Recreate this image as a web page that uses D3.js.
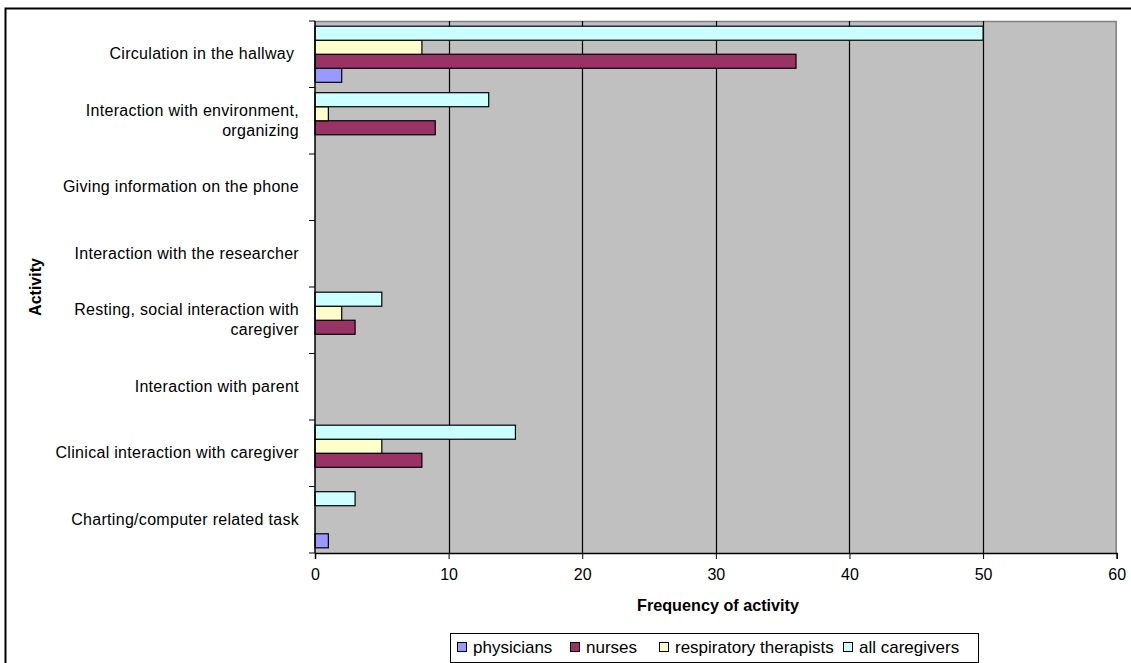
<!DOCTYPE html>
<html>
<head>
<meta charset="utf-8">
<script src="https://cdn.jsdelivr.net/npm/d3@7"></script>
<style>
  body { margin: 0; background: #fff; }
  svg { display: block; font-family: Arial, "Liberation Sans", sans-serif; }
  text { white-space: pre; }
</style>
</head>
<body>
<svg id="chart" width="1131" height="663"></svg>
<script>
// Activity categories, listed top to bottom
const categories = [
  ["Circulation in the hallway "],
  ["Interaction with environment,", "organizing"],
  ["Giving information on the phone"],
  ["Interaction with the researcher"],
  ["Resting, social interaction with", "caregiver"],
  ["Interaction with parent"],
  ["Clinical interaction with caregiver"],
  ["Charting/computer related task"]
];
const seriesNames = ["physicians", "nurses", "respiratory therapists", "all caregivers"];
const seriesColors = ["#9999FF", "#993366", "#FFFFCC", "#CCFFFF"];
// Frequency of each activity per caregiver group (same order as categories)
const physicians      = [2, 0, 0, 0, 0, 0, 0, 1];
const nurses          = [36, 9, 0, 0, 3, 0, 8, 0];
const respTherapists  = [8, 1, 0, 0, 2, 0, 5, 0];
const allCaregivers   = [50, 13, 0, 0, 5, 0, 15, 3];
const xTicks = [0, 10, 20, 30, 40, 50, 60];

const seriesValues = [physicians, nurses, respTherapists, allCaregivers];

const svg = d3.select("#chart");
const plotL = 315, plotR = 1116.7, plotT = 21, plotB = 553;

// outer chart frame
svg.append("rect").attr("x", 5.5).attr("y", 8.5).attr("width", 1140).attr("height", 670)
  .attr("fill", "#fff").attr("stroke", "#000").attr("stroke-width", 2);

const x = d3.scaleLinear().domain([0, 60]).range([plotL, plotR]);
const y = d3.scaleBand().domain(d3.range(categories.length)).range([plotT, plotB]);
// bars inside a band, drawn top-down: all caregivers, RT, nurses, physicians
const inner = d3.scaleBand().domain([3, 2, 1, 0]).range([0, y.bandwidth()]).paddingOuter(0.37);

// plot background
svg.append("rect").attr("x", plotL).attr("y", plotT).attr("width", plotR - plotL).attr("height", plotB - plotT)
  .attr("fill", "#C0C0C0");
svg.append("path")
  .attr("d", `M${plotL},${plotT + 0.5}H${plotR - 0.5}V${plotB}`)
  .attr("fill", "none").attr("stroke", "#808080").attr("stroke-width", 1.5);

// vertical gridlines
svg.append("g").selectAll("line").data(xTicks.filter(t => t > 0 && t < 60)).join("line")
  .attr("x1", d => Math.round(x(d)) + 0.5).attr("x2", d => Math.round(x(d)) + 0.5)
  .attr("y1", plotT).attr("y2", plotB)
  .attr("stroke", "#000").attr("stroke-width", 1.2);

// bars
const g = svg.append("g");
seriesValues.forEach((vals, s) => {
  g.selectAll(null).data(vals.map((v, i) => ({ v, i })).filter(d => d.v > 0)).join("rect")
    .attr("x", x(0))
    .attr("y", d => y(d.i) + inner(s))
    .attr("width", d => x(d.v) - x(0))
    .attr("height", inner.bandwidth())
    .attr("fill", seriesColors[s])
    .attr("stroke", "#000").attr("stroke-width", 1.2);
});

// x axis
const xAxis = svg.append("g").attr("transform", `translate(0,${plotB})`)
  .call(d3.axisBottom(x).tickValues(xTicks).tickSize(6).tickPadding(10));
xAxis.select(".domain").attr("stroke", "#000").attr("stroke-width", 1.5);
xAxis.selectAll(".tick line").attr("stroke", "#000");
xAxis.selectAll("text").attr("font-size", 16).attr("fill", "#000").attr("font-family", "Arial, 'Liberation Sans', sans-serif");

// y axis (ticks at band boundaries)
const yBounds = d3.range(categories.length + 1).map(i => plotT + i * y.step());
svg.append("line").attr("x1", plotL).attr("x2", plotL).attr("y1", plotT).attr("y2", plotB)
  .attr("stroke", "#000").attr("stroke-width", 1.5);
svg.append("g").selectAll("line").data(yBounds).join("line")
  .attr("x1", plotL - 6).attr("x2", plotL).attr("y1", d => d).attr("y2", d => d)
  .attr("stroke", "#000");

// category labels
const lab = svg.append("g").selectAll("text").data(categories).join("text")
  .attr("text-anchor", "end").attr("font-size", 16).attr("letter-spacing", 0.3).attr("fill", "#000")
  .attr("transform", (d, i) => `translate(299,${y(i) + y.bandwidth() / 2})`);
lab.each(function(lines) {
  const t = d3.select(this);
  lines.forEach((ln, k) => {
    t.append("tspan").attr("x", 0)
      .attr("y", (k - (lines.length - 1) / 2) * 20)
      .attr("dy", "0.3em").text(ln);
  });
});

// axis titles
svg.append("text").attr("x", 718).attr("y", 611)
  .attr("text-anchor", "middle").attr("font-size", 16.2).attr("font-weight", "bold").text("Frequency of activity");
svg.append("text").attr("transform", `translate(41,${(plotT + plotB) / 2}) rotate(-90)`)
  .attr("text-anchor", "middle").attr("font-size", 16).attr("font-weight", "bold").text("Activity");

// legend
const legend = svg.append("g");
legend.append("rect").attr("x", 450.5).attr("y", 633.5).attr("width", 528).attr("height", 29)
  .attr("fill", "#fff").attr("stroke", "#000");
const legX = [457, 570, 659, 843];
seriesNames.forEach((name, s) => {
  legend.append("rect").attr("x", legX[s] + 0.5).attr("y", 642.5).attr("width", 9).attr("height", 9)
    .attr("fill", seriesColors[s]).attr("stroke", "#000");
  legend.append("text").attr("x", legX[s] + 16).attr("y", 653)
    .attr("font-size", 17).attr("fill", "#000").text(name);
});
</script>
</body>
</html>
